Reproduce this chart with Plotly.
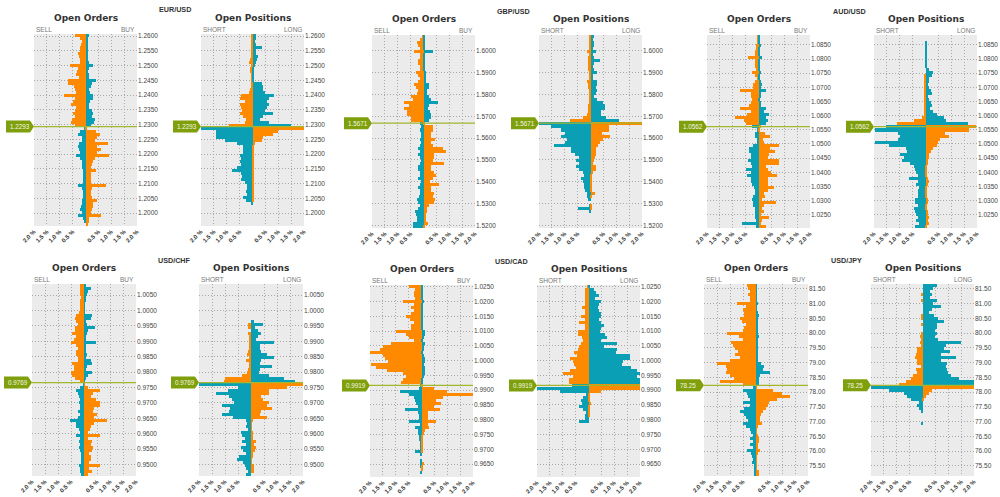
import plotly.graph_objects as go

# values are in hundredths of a percent, top row of the plot downwards
EUR_O_L=[42,20,15,18,20,22,28,25,22,20,60,30,32,35,25,68,68,45,40,38,82,40,50,55,35,42,50,40,52,55,40,2,20,28,15,12,25,28,25,22,35,20,15,12,15,10,10,8,8,10,30,12,8,10,8,15,12,18,20,15,30,10,5,0]
EUR_O_R=[15,8,8,8,8,8,10,8,10,12,30,15,10,12,12,42,25,20,15,18,28,30,18,15,15,25,30,25,35,32,20,2,40,58,45,35,87,45,60,45,90,35,28,25,22,40,20,20,20,22,78,25,22,20,25,45,30,28,25,20,62,15,15,10]
EUR_P_L=[4,6,5,5,5,5,4,5,8,12,6,10,10,6,3,2,3,4,10,15,45,50,30,50,45,40,50,35,25,30,90,200,140,140,140,105,60,35,35,35,50,45,50,45,60,80,45,40,45,30,20,22,25,20,35,25,5,0,0,0,0,0,0,0]
EUR_P_R=[12,15,10,15,38,15,12,22,18,15,8,6,5,3,2,2,35,40,40,50,85,65,55,65,55,50,80,40,30,65,150,200,100,80,40,38,10,5,5,5,5,5,5,3,3,3,3,2,2,2,2,2,2,2,2,2,0,0,0,0,0,0,0,0]
GBP_O_L=[6,15,25,20,15,35,15,12,20,20,12,15,30,22,15,20,35,30,20,25,50,40,75,55,75,65,65,50,50,15,10,12,10,10,15,10,15,20,15,20,15,10,12,20,20,15,15,20,10,15,20,15,12,18,25,20,12,20,32,30,25,25,40,40]
GBP_O_R=[2,3,3,3,3,38,5,4,3,3,5,6,8,8,10,10,20,22,15,12,22,30,55,20,18,25,30,30,20,5,35,35,30,30,45,30,35,75,88,40,40,35,78,30,30,40,50,35,25,60,30,28,40,35,45,40,20,15,15,10,10,8,18,5]
GBP_P_L=[2,2,2,2,2,15,5,8,8,8,8,8,3,3,5,15,8,8,3,3,3,5,5,8,10,10,15,30,80,200,155,115,100,115,90,100,140,75,75,60,45,55,45,55,45,30,25,35,28,25,25,20,15,12,10,0,5,48,5,0,0,0,0,0]
GBP_P_R=[15,10,12,15,10,20,10,15,38,15,10,15,25,10,10,25,25,20,25,20,15,25,50,55,55,40,40,60,110,200,70,70,45,75,50,35,30,20,22,20,18,15,8,20,20,10,5,5,5,5,5,5,18,3,0,0,5,2,0,0,0,0,0,0]
AUD_O_L=[2,5,5,8,10,15,12,40,15,15,12,8,25,12,5,12,20,20,70,30,30,25,30,35,70,30,45,90,55,50,25,3,12,12,3,5,20,38,35,30,30,40,30,25,50,30,45,28,30,25,18,15,15,20,25,22,20,15,15,12,12,8,65,10]
AUD_O_R=[2,2,5,10,5,3,3,12,3,3,3,3,10,3,3,8,15,10,28,8,8,5,8,10,30,20,40,30,35,30,10,3,25,45,18,20,80,45,65,40,35,80,80,30,35,50,70,35,35,35,60,35,20,25,15,68,20,15,20,10,40,15,10,30]
AUD_P_L=[0,0,0,0,0,0,0,0,0,0,0,0,0,2,2,2,2,2,2,2,2,2,3,3,3,3,5,15,45,110,155,198,105,100,105,195,140,75,70,100,85,90,60,45,40,35,30,65,30,35,25,30,30,28,40,40,30,45,40,35,30,35,25,40]
AUD_P_R=[0,0,3,3,3,3,3,5,3,3,3,15,28,25,15,15,10,15,20,25,10,15,22,25,18,30,45,70,80,165,195,170,75,90,55,50,45,30,22,15,15,8,8,5,3,3,3,10,15,8,5,5,3,3,8,8,3,3,10,8,12,8,15,5]
CHF_O_L=[15,15,15,15,12,15,15,15,15,20,30,35,30,25,35,35,45,30,40,50,30,25,30,30,25,25,45,40,40,50,45,35,15,2,15,30,25,20,15,18,15,15,25,15,25,52,30,30,18,15,30,15,18,15,18,15,12,12,10,10,20,15,15,10]
CHF_O_R=[5,25,15,12,6,5,3,3,3,3,30,28,8,10,42,15,12,8,8,48,8,6,6,10,5,25,30,10,8,32,15,5,2,2,15,62,35,25,45,62,62,40,35,50,38,88,40,25,22,15,62,15,30,25,35,30,20,25,25,20,62,20,30,15]
CHF_P_L=[0,0,0,0,0,0,0,0,0,0,0,0,0,10,10,0,10,8,8,5,5,5,10,15,5,20,5,5,12,15,35,100,105,200,50,90,135,85,75,65,110,80,85,110,70,20,15,20,10,40,35,25,35,20,40,30,20,45,55,30,25,20,10,20]
CHF_P_R=[0,0,0,0,0,0,0,0,0,0,0,0,12,48,15,25,40,25,20,88,35,35,40,60,90,40,35,80,35,30,70,125,170,200,140,70,70,40,45,70,60,80,40,35,60,5,3,3,3,5,5,5,20,12,20,15,5,5,3,3,12,10,10,0]
CAD_O_L=[50,25,30,30,25,70,30,40,30,40,60,45,30,40,40,100,60,50,30,120,150,160,200,150,140,130,195,175,135,70,60,70,80,5,10,85,50,30,25,20,15,65,15,10,8,50,5,25,15,15,10,8,5,5,5,25,5,0,5,5,5,0,3,0]
CAD_O_R=[3,2,2,2,2,10,3,2,2,2,2,3,3,5,3,12,12,8,5,15,8,8,5,8,12,15,10,15,12,15,8,5,5,2,50,100,200,85,55,75,50,70,25,25,25,55,25,30,15,10,5,5,3,3,3,5,0,0,0,10,3,3,0,0]
CAD_P_L=[5,15,15,15,12,12,12,25,15,15,30,15,35,15,12,40,40,25,20,30,35,40,55,45,70,60,55,50,70,100,60,75,75,65,200,110,10,22,28,25,38,20,8,15,15,35,0,0,0,0,0,0,0,0,0,0,0,0,0,0,0,0,0,0]
CAD_P_R=[5,20,30,40,25,50,40,35,40,50,50,40,50,60,50,45,65,70,50,110,60,110,105,160,160,135,130,165,190,200,190,200,200,200,200,50,5,5,5,10,3,3,2,2,0,0,0,0,0,0,0,0,0,0,0,0,0,0,0,0,0,0,0,0]
JPY_O_L=[35,30,25,30,25,25,75,40,50,45,45,60,55,40,45,50,110,65,50,95,90,80,70,80,60,100,150,115,110,115,100,85,140,50,10,50,35,30,25,50,25,45,60,45,40,30,50,40,25,20,10,25,10,25,10,35,18,15,10,15,5,5,8,5]
JPY_O_R=[3,3,3,3,3,3,5,3,3,8,12,8,5,5,5,5,5,12,8,5,5,5,5,5,5,5,18,30,25,55,15,10,10,10,2,65,100,130,80,50,45,40,25,20,15,15,22,5,3,3,8,10,10,8,5,15,8,3,3,3,3,3,10,10]
JPY_P_L=[0,0,0,3,0,3,0,0,0,0,3,3,0,3,0,0,5,8,3,10,5,20,20,25,30,20,20,5,25,20,35,45,65,90,200,130,70,60,45,15,20,15,5,0,0,0,3,0,0,0,0,0,0,0,0,0,0,0,0,0,0,0,0,0]
JPY_P_R=[55,40,30,35,30,55,40,70,35,25,45,60,85,55,55,50,55,50,60,150,90,85,105,70,130,70,95,90,95,100,110,140,200,200,200,35,25,15,5,0,0,0,0,0,0,0,0,0,0,0,0,0,0,0,0,0,0,0,0,0,0,0,0,0]

EUR_TICKS=[1.26,1.255,1.25,1.245,1.24,1.235,1.23,1.225,1.22,1.215,1.21,1.205,1.2]
GBP_TICKS=[1.6,1.59,1.58,1.57,1.56,1.55,1.54,1.53,1.52]
AUD_TICKS=[1.085,1.08,1.075,1.07,1.065,1.06,1.055,1.05,1.045,1.04,1.035,1.03,1.025]
CHF_TICKS=[1.005,1.0,0.995,0.99,0.985,0.98,0.975,0.97,0.965,0.96,0.955,0.95]
CAD_TICKS=[1.025,1.02,1.015,1.01,1.005,1.0,0.995,0.99,0.985,0.98,0.975,0.97,0.965]
JPY_TICKS=[81.5,81,80.5,80,79.5,79,78.5,78,77.5,77,76.5,76,75.5]

X_TICKS=[-2,-1.5,-1,-0.5,0.5,1,1.5,2]
X_TEXT=["<b>2.0 %</b>","<b>1.5 %</b>","<b>1.0 %</b>","<b>0.5 %</b>","<b>0.5 %</b>","<b>1.0 %</b>","<b>1.5 %</b>","<b>2.0 %</b>"]

ORANGE="#ff8a00"; TEAL="#0a9fb5"; GREEN="#7f9f0c"; LINE="#a3b62e"
W,H=1000,497

PAIRS=[
 dict(name="EUR/USD",price=1.2293,txt="1.2293",top=1.2607,bot=1.1956,ticks=EUR_TICKS,fmt="{:.4f}",y0=34,y1=226,nx=175,ny=9,
      o=(34,137,EUR_O_L,EUR_O_R),p=(201,304,EUR_P_L,EUR_P_R)),
 dict(name="GBP/USD",price=1.5668,txt="1.5671",top=1.6072,bot=1.5188,ticks=GBP_TICKS,fmt="{:.4f}",y0=35,y1=228,nx=513,ny=11,
      o=(372,475,GBP_O_L,GBP_O_R),p=(539,642,GBP_P_L,GBP_P_R)),
 dict(name="AUD/USD",price=1.0561,txt="1.0562",top=1.0885,bot=1.0203,ticks=AUD_TICKS,fmt="{:.4f}",y0=35,y1=228,nx=849,ny=11,
      o=(707,810,AUD_O_L,AUD_O_R),p=(874,977,AUD_P_L,AUD_P_R)),
 dict(name="USD/CHF",price=0.9766,txt="0.9769",top=1.0086,bot=0.9463,ticks=CHF_TICKS,fmt="{:.4f}",y0=284,y1=476,nx=174,ny=260,
      o=(32,136,CHF_O_L,CHF_O_R),p=(199,303,CHF_P_L,CHF_P_R)),
 dict(name="USD/CAD",price=0.9916,txt="0.9919",top=1.0256,bot=0.9606,ticks=CAD_TICKS,fmt="{:.4f}",y0=285,y1=477,nx=511,ny=261,
      o=(370,473,CAD_O_L,CAD_O_R),p=(537,640,CAD_P_L,CAD_P_R)),
 dict(name="USD/JPY",price=78.23,txt="78.25",top=81.66,bot=75.16,ticks=JPY_TICKS,fmt="{:.2f}",y0=284,y1=476,nx=846,ny=260,
      o=(704,808,JPY_O_L,JPY_O_R),p=(871,974,JPY_P_L,JPY_P_R)),
]

fig=go.Figure()
layout={}; ann=[]; shapes=[]
FONT="Liberation Sans"
def text(x,y,s,size,color,bold=False,anchor="center",family=FONT):
    ann.append(dict(x=x/W,y=1-y/H,xref="paper",yref="paper",text=f"<b>{s}</b>" if bold else s,showarrow=False,
                    xanchor=anchor,yanchor="middle",font=dict(family=family,size=size,color=color)))
n=0
for P in PAIRS:
    text(P["nx"],P["ny"],P["name"],7.2,"#333",True)
    for key,title,lt,rt in (("o","Open Orders","SELL","BUY"),("p","Open Positions","SHORT","LONG")):
        x0,x1,L,R=P[key]
        n+=1
        xa=f"x{n}"; ya=f"y{n}"
        step=(P["top"]-P["bot"])/len(L)
        ys=[P["top"]-(i+.5)*step for i in range(len(L))]
        cl=[ORANGE if y>P["price"] else TEAL for y in ys]
        cr=[TEAL if y>P["price"] else ORANGE for y in ys]
        fig.add_bar(y=ys,x=[-v/100 for v in L],orientation="h",width=step,marker=dict(color=cl,line_width=0),xaxis=xa,yaxis=ya,showlegend=False)
        fig.add_bar(y=ys,x=[v/100 for v in R],orientation="h",width=step,marker=dict(color=cr,line_width=0),xaxis=xa,yaxis=ya,showlegend=False)
        layout[f"xaxis{n}"]=dict(domain=[x0/W,x1/W],range=[-2,2],anchor=ya,tickvals=X_TICKS,ticktext=X_TEXT,tickangle=-45,
            showgrid=True,gridcolor="#a8a8a8",griddash="1px,2px",gridwidth=1,zeroline=False,showline=False,ticks="",
            tickfont=dict(family=FONT,size=6,color="#333"))
        layout[f"yaxis{n}"]=dict(domain=[1-P["y1"]/H,1-P["y0"]/H],range=[P["bot"],P["top"]],anchor=xa,side="right",
            tickvals=P["ticks"],ticktext=[P["fmt"].format(t) for t in P["ticks"]],
            showgrid=True,gridcolor="#a8a8a8",griddash="1px,2px",gridwidth=1,zeroline=False,showline=False,ticks="",
            tickfont=dict(family=FONT,size=6.5,color="#444"))
        text((x0+x1)/2,P["y0"]-16,title,9,"#333",True,family="DejaVu Sans")
        text(x0,P["y0"]-4.5,lt,6.5,"#777",False,"left")
        text(x1,P["y0"]-4.5,rt,6.5,"#777",False,"right")
        py=P["y0"]+(P["top"]-P["price"])/(P["top"]-P["bot"])*(P["y1"]-P["y0"])
        shapes.append(dict(type="line",xref="paper",yref="paper",x0=x0/W,x1=x1/W,y0=1-py/H,y1=1-py/H,line=dict(color=LINE,width=1.2)))
        top=py-6; bot=py+6; left=x0-28
        path=f"M {left/W} {1-top/H} L {(x0-4)/W} {1-top/H} L {x0/W} {1-py/H} L {(x0-4)/W} {1-bot/H} L {left/W} {1-bot/H} Z"
        shapes.append(dict(type="path",xref="paper",yref="paper",path=path,fillcolor=GREEN,line=dict(width=0)))
        text(left+1.5,py,P["txt"],6.3,"#f4f7e0",False,"left")

fig.update_layout(width=W,height=H,margin=dict(l=0,r=0,t=0,b=0,autoexpand=False),plot_bgcolor="#ebebeb",paper_bgcolor="#ffffff",
                  barmode="overlay",bargap=0,annotations=ann,shapes=shapes,**layout)
fig.write_html("out.html",config={"displayModeBar":False},post_script="document.body.style.margin='0';document.body.style.overflow='hidden';")
